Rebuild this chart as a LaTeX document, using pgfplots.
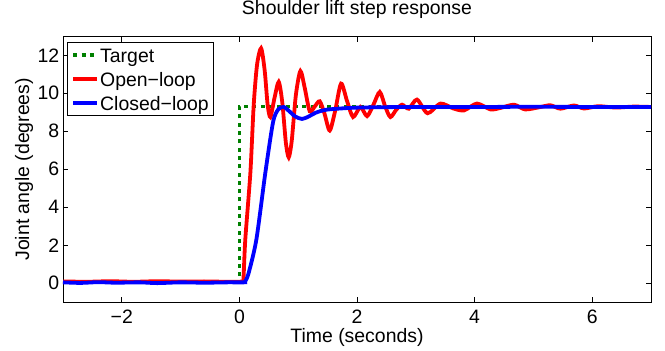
\documentclass[border=0pt]{standalone}
\usepackage{fontspec}
\setmainfont{Liberation Sans}
\usepackage{pgfplots}
\pgfplotsset{compat=1.18}
\definecolor{mgreen}{RGB}{0,128,0}
\newcommand{\ff}{\fontsize{19.5}{23}\selectfont}
\begin{document}
\begin{tikzpicture}
\begin{axis}[
  at={(0,0)}, anchor=south west,
  scale only axis, width=588bp, height=266bp,
  xmin=-3, xmax=7, ymin=-1, ymax=13,
  xtick={-2,0,2,4,6}, xticklabels={−2,0,2,4,6},
  ytick={0,2,4,6,8,10,12},
  /pgf/number format/assume math mode=true,
  tick align=inside, major tick length=5.5bp,
  axis line style={line width=0.8bp},
  every tick/.style={black, line width=0.8bp},
  tick label style={font=\ff},
  xticklabel style={anchor=base, yshift=-21.5bp},
  yticklabel style={anchor=east, inner sep=0pt, xshift=-3.5bp},
  title={Shoulder lift step response},
  title style={font=\ff, at={(axis description cs:0.5,1)}, anchor=base, yshift=15.6bp},
  xlabel={Time (seconds)},
  xlabel style={font=\ff, at={(axis description cs:0.5,0)}, anchor=base, yshift=-40bp},
  ylabel={Joint angle (degrees)},
  ylabel style={font=\ff, at={(axis description cs:-0.0578,0.5)}, anchor=base},
  legend cell align=left,
  legend image code/.code={\draw[#1] (0bp,0bp) -- (24bp,0bp);},
  legend style={at={(axis description cs:0,1)}, anchor=north west, xshift=4bp, yshift=-5.4bp,
    font=\ff, draw=black, line width=0.8bp, fill=white,
    inner xsep=4bp, inner ysep=1bp, row sep=0.3bp,
    nodes={inner sep=1bp, text height=18bp, text depth=3.7bp}},
]
\addplot[mgreen, line width=3.5bp, dash pattern=on 4bp off 4.3bp] coordinates {
(-3,0.05) (0,0.05) (0,9.3) (7,9.3)};
\addlegendentry{Target}
\addplot[red, line width=3.8bp, smooth, tension=0.45] coordinates {
(-3,0.1) (-2.6,0.08) (-2.2,0.11) (-1.8,0.08) (-1.4,0.11) (-1.0,0.09) (-0.6,0.1) (-0.2,0.08) (0.05,0.1)
(0.07,0.3) (0.10,2.3) (0.187,5.84) (0.243,9.37) (0.30,11.5) (0.369,12.37) (0.43,11.2) (0.48,9.4)
(0.527,8.75) (0.60,9.8) (0.669,10.6) (0.73,9.5) (0.79,7.4) (0.839,6.63) (0.89,7.5) (0.96,9.9)
(1.037,11.17) (1.11,10.3) (1.196,9.05) (1.28,9.3) (1.366,9.58) (1.45,8.9) (1.536,8.04) (1.63,9.1)
(1.729,10.51) (1.83,9.6) (1.933,8.75) (2.058,9.28) (2.171,8.80) (2.28,9.4) (2.387,10.07) (2.48,9.3)
(2.568,8.75) (2.67,9.15) (2.767,9.40) (2.88,9.19) (3.02,9.67) (3.2,8.95) (3.42,9.46) (3.64,9.2)
(3.82,9.1) (4.04,9.46) (4.27,9.15) (4.44,9.23) (4.67,9.40) (4.86,9.15) (5.12,9.28) (5.29,9.37)
(5.46,9.19) (5.69,9.36) (5.86,9.2) (6.1,9.32) (6.4,9.25) (6.7,9.3) (7,9.28)};
\addlegendentry{Open−loop}
\addplot[blue, line width=3.8bp, smooth, tension=0.45] coordinates {
(-3,0.05) (-2.7,0.02) (-2.4,0.06) (-2.1,0.03) (-1.7,0.05) (-1.4,0.01) (-1.0,0.05) (-0.6,0.03) (-0.2,0.05) (0.08,0.05)
(0.10,0.1) (0.158,0.55) (0.289,2.31) (0.442,5.84) (0.573,8.49) (0.66,9.15) (0.754,9.28) (0.85,9.05)
(0.95,8.78) (1.066,8.65) (1.18,8.78) (1.3,8.98) (1.49,9.14) (1.94,9.24) (2.5,9.27) (3,9.28) (4,9.28)
(5,9.29) (6,9.28) (7,9.28)};
\addlegendentry{Closed−loop}
\end{axis}
\pgfresetboundingbox
\path (-63bp,-48.7bp) rectangle (602bp,302.3bp);
\end{tikzpicture}
\end{document}
